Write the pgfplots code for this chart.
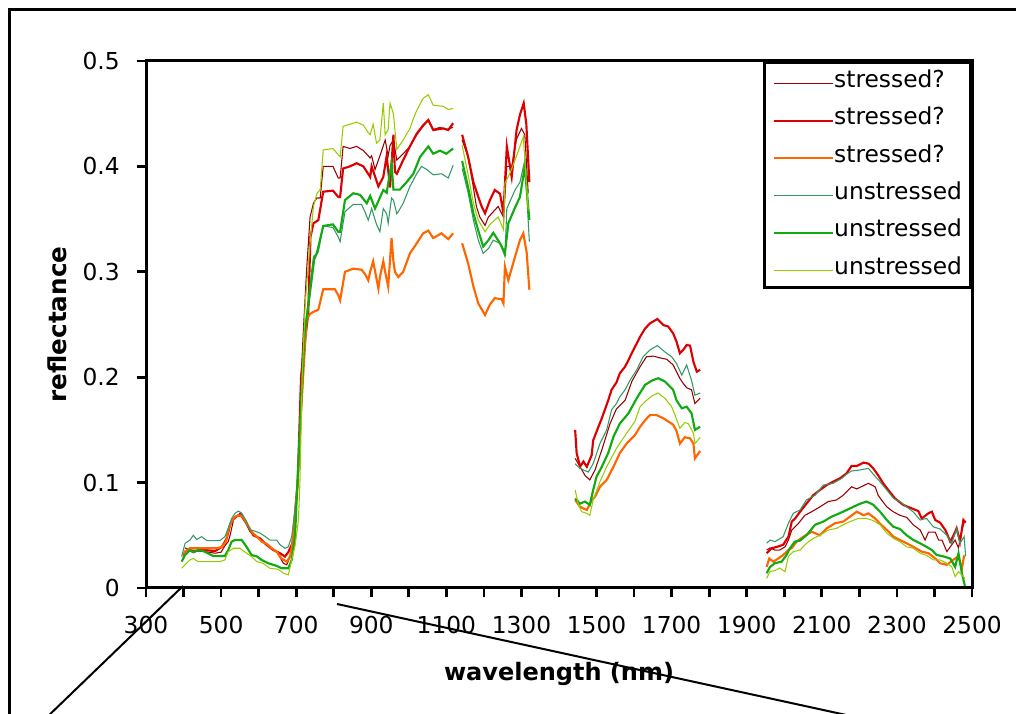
\documentclass[border=0pt]{standalone}
\usepackage{fontspec}
\setmainfont{DejaVu Sans}
\usepackage{pgfplots}
\pgfplotsset{compat=1.18}

\definecolor{sdark}{HTML}{990000}
\definecolor{sred}{HTML}{DD0000}
\definecolor{sorange}{HTML}{FF6600}
\definecolor{uteal}{HTML}{339966}
\definecolor{ugreen}{HTML}{11AA11}
\definecolor{ulight}{HTML}{99CC00}

\begin{document}
\begin{tikzpicture}[x=0.75pt,y=0.75pt]
\useasboundingbox (0,0) rectangle (1016,713);
\coordinate (A) at (146,125);
\begin{axis}[
    at={(A)}, anchor=south west,
    scale only axis, width=619.5pt, height=395.25pt,
    xmin=300, xmax=2500, ymin=0, ymax=0.5,
    unbounded coords=jump,
    xtick={300,500,700,900,1100,1300,1500,1700,1900,2100,2300,2500},
    xticklabels={300,500,700,900,1100,1300,1500,1700,1900,2100,2300,2500},
    minor x tick num=1,
    ytick={0,0.1,0.2,0.3,0.4,0.5},
    yticklabels={0,0.1,0.2,0.3,0.4,0.5},
    tick align=outside, tick pos=left,
    major tick length=7pt, minor tick length=7pt,
    every tick/.style={black, line width=2pt},
    axis line style={line width=2.25pt},
    tick label style={font=\fontsize{17.5}{20}\selectfont, inner sep=0pt},
    xticklabel style={yshift=-14pt},
    yticklabel style={xshift=-12.5pt},
    xlabel={\bfseries wavelength (nm)},
    ylabel={\bfseries reflectance},
    every axis x label/.style={at={(axis description cs:0.5,0)}, anchor=center, yshift=-64.5pt, font=\fontsize{18}{20}\selectfont},
    every axis y label/.style={at={(axis description cs:0,0.5)}, anchor=center, rotate=90, yshift=66.4pt, font=\fontsize{18.5}{20}\selectfont},
    legend style={at={(1,1)}, anchor=north east, draw=black, line width=2pt, fill=white,
        inner xsep=6.5pt, inner ysep=6pt, row sep=11pt,
        font=\fontsize{17.5}{20}\selectfont,
        nodes={inner sep=0pt, text height=13pt, text depth=4pt}},
    legend cell align=left,
    legend image code/.code={\draw[#1] (0pt,-1.5pt) -- (44pt,-1.5pt);},
    thinline/.style={line width=0.8pt},
    thickline/.style={line width=1.6pt},
]
% stressed? (dark red)
\addplot[sdark, thinline] coordinates {
(404,0.038) (417,0.036) (426,0.036) (439,0.035) (457,0.0345) (484,0.033) (500,0.034) (510,0.040) (519,0.044) (524,0.050)
(533,0.0645) (550,0.0708) (559,0.068) (568,0.060) (577,0.0534) (590,0.050) (612,0.044) (630,0.039) (648,0.0345) (666,0.0234)
(675,0.022) (684,0.030) (694,0.0455) (700,0.08) (706,0.11) (713,0.20) (720,0.25) (728,0.303) (737,0.352) (746,0.365)
(755,0.37) (764,0.37) (772,0.40) (798,0.40) (812,0.389) (817,0.389) (825,0.419) (843,0.417) (861,0.419) (879,0.415)
(897,0.408) (901,0.41) (910,0.397) (923,0.41) (937,0.425) (945,0.41) (950,0.42) (959,0.425) (968,0.406) (985,0.412)
(1003,0.419) (1021,0.43) (1038,0.438) (1052,0.444) (1065,0.435) (1083,0.437) (1100,0.435) (1118,0.437)
(1130,nan)
(1142,0.425) (1158,0.409) (1172,0.38) (1180,0.362) (1189,0.352) (1203,0.344) (1212,0.352) (1225,0.357) (1238,0.362) (1252,0.352)
(1261,0.40) (1274,0.40) (1287,0.426) (1300,0.436) (1309,0.43) (1318,0.3745)
(1400,nan)
(1443,0.123) (1456,0.115) (1469,0.107) (1482,0.1025) (1496,0.112) (1514,0.131) (1536,0.156) (1553,0.17) (1576,0.178) (1594,0.196)
(1616,0.21) (1633,0.2194) (1651,0.22) (1673,0.218) (1687,0.217) (1704,0.2116) (1713,0.2052) (1722,0.1988) (1731,0.194) (1740,0.19)
(1753,0.188) (1762,0.175) (1776,0.18)
(1900,nan)
(1953,0.036) (1962,0.038) (1975,0.036) (1988,0.036) (2002,0.039) (2011,0.0455) (2020,0.055) (2038,0.0614) (2055,0.069) (2073,0.0724)
(2095,0.077) (2117,0.082) (2139,0.0835) (2157,0.088) (2179,0.096) (2193,0.094) (2224,0.0993) (2242,0.096) (2250,0.088) (2259,0.0835)
(2273,0.077) (2290,0.0724) (2308,0.069) (2326,0.067) (2344,0.0598) (2362,0.055) (2375,0.0455) (2384,0.053) (2402,0.053) (2411,0.0455)
(2420,0.0455) (2433,0.0345) (2446,0.041) (2455,0.0455) (2464,0.038) (2473,0.055) (2481,0.0645)
};
\addlegendentry{stressed?}
% stressed? (red)
\addplot[sred, thickline] coordinates {
(400,0.030) (404,0.0345) (417,0.036) (426,0.034) (439,0.036) (457,0.036) (484,0.035) (502,0.039) (515,0.047) (524,0.060)
(533,0.066) (546,0.069) (555,0.068) (568,0.061) (586,0.050) (604,0.047) (621,0.041) (639,0.036) (657,0.033) (670,0.0298)
(679,0.034) (690,0.0424) (697,0.07) (704,0.10) (713,0.20) (722,0.23) (732,0.26) (738,0.333) (746,0.346) (759,0.349)
(772,0.376) (798,0.377) (812,0.371) (817,0.371) (825,0.398) (843,0.400) (861,0.403) (879,0.40) (897,0.39) (901,0.40)
(919,0.381) (932,0.39) (941,0.41) (950,0.38) (959,0.43) (963,0.395) (968,0.393) (985,0.406) (1003,0.419) (1021,0.431)
(1038,0.439) (1052,0.444) (1065,0.4345) (1092,0.436) (1105,0.4345) (1118,0.441)
(1130,nan)
(1142,0.43) (1158,0.409) (1172,0.385) (1185,0.371) (1194,0.362) (1203,0.3555) (1216,0.368) (1229,0.3776) (1243,0.374) (1252,0.3555)
(1261,0.419) (1274,0.39) (1287,0.4345) (1296,0.449) (1306,0.46) (1313,0.44) (1321,0.385)
(1400,nan)
(1443,0.150) (1447,0.128) (1456,0.115) (1465,0.12) (1474,0.115) (1487,0.126) (1491,0.140) (1505,0.153) (1514,0.161) (1531,0.178)
(1540,0.188) (1553,0.195) (1562,0.2037) (1576,0.210) (1585,0.2163) (1598,0.2258) (1607,0.232) (1616,0.2384) (1629,0.246) (1642,0.251)
(1662,0.2552) (1678,0.2495) (1691,0.248) (1704,0.2416) (1713,0.2337) (1722,0.2227) (1731,0.226) (1740,0.2305) (1749,0.23) (1758,0.2147)
(1767,0.2052) (1776,0.207)
(1900,nan)
(1953,0.0329) (1966,0.0377) (1980,0.039) (1997,0.041) (2011,0.0487) (2020,0.063) (2029,0.066) (2042,0.0724) (2059,0.080) (2077,0.088)
(2095,0.093) (2113,0.0977) (2130,0.1008) (2148,0.104) (2166,0.1088) (2179,0.1157) (2193,0.1157) (2211,0.119) (2224,0.118) (2237,0.1135)
(2250,0.107) (2264,0.099) (2277,0.093) (2295,0.085) (2317,0.0788) (2339,0.0756) (2357,0.073) (2366,0.066) (2384,0.0709) (2393,0.0724)
(2402,0.0645) (2415,0.062) (2429,0.055) (2442,0.044) (2451,0.05) (2459,0.0566) (2468,0.044) (2477,0.0645) (2483,0.062)
};
\addlegendentry{stressed?}
% stressed? (orange)
\addplot[sorange, thickline] coordinates {
(400,0.028) (404,0.0345) (417,0.0377) (439,0.0377) (462,0.0377) (488,0.0377) (502,0.039) (513,0.044) (519,0.055) (528,0.063)
(537,0.0677) (550,0.069) (559,0.067) (568,0.0614) (581,0.0534) (595,0.0487) (608,0.044) (621,0.042) (635,0.0377) (648,0.0345)
(661,0.028) (675,0.025) (684,0.03) (690,0.0424) (697,0.0724) (704,0.10) (712,0.16) (720,0.21) (728,0.255) (737,0.26)
(746,0.262) (759,0.264) (772,0.2834) (803,0.2834) (812,0.278) (817,0.273) (830,0.300) (852,0.303) (874,0.302) (883,0.298)
(892,0.292) (897,0.30) (905,0.31) (919,0.284) (923,0.295) (932,0.31) (937,0.30) (945,0.286) (954,0.332) (959,0.31)
(963,0.30) (972,0.295) (985,0.30) (1003,0.3175) (1021,0.327) (1038,0.3365) (1052,0.339) (1065,0.332) (1087,0.3365) (1105,0.331)
(1118,0.3365)
(1130,nan)
(1142,0.327) (1158,0.308) (1172,0.286) (1185,0.270) (1203,0.259) (1216,0.269) (1229,0.275) (1247,0.274) (1252,0.270) (1256,0.305)
(1265,0.292) (1283,0.3145) (1296,0.330) (1305,0.3365) (1314,0.318) (1321,0.283)
(1400,nan)
(1443,0.0835) (1456,0.077) (1474,0.074) (1487,0.083) (1496,0.0866) (1509,0.096) (1527,0.1025) (1545,0.115) (1562,0.128) (1580,0.137)
(1602,0.145) (1616,0.153) (1629,0.159) (1642,0.164) (1660,0.164) (1678,0.161) (1691,0.158) (1704,0.155) (1713,0.149) (1722,0.137)
(1735,0.143) (1749,0.142) (1758,0.137) (1762,0.123) (1776,0.130)
(1900,nan)
(1953,0.020) (1960,0.028) (1971,0.025) (1984,0.028) (1997,0.0313) (2011,0.036) (2020,0.038) (2033,0.044) (2051,0.0487) (2073,0.0534)
(2095,0.050) (2113,0.0566) (2135,0.0614) (2157,0.063) (2175,0.0677) (2193,0.0724) (2211,0.069) (2224,0.0708) (2242,0.066) (2255,0.061)
(2273,0.055) (2291,0.0487) (2308,0.0455) (2326,0.0424) (2344,0.039) (2366,0.0345) (2384,0.033) (2402,0.028) (2415,0.0235) (2433,0.022)
(2451,0.027) (2464,0.030) (2473,0.018) (2479,0.031)
};
\addlegendentry{stressed?}
% unstressed (teal)
\addplot[uteal, thinline] coordinates {
(395,0.0298) (404,0.0424) (417,0.0455) (426,0.050) (435,0.046) (448,0.0487) (462,0.045) (497,0.045) (510,0.0487) (519,0.0566)
(528,0.066) (537,0.0708) (546,0.073) (555,0.071) (568,0.063) (577,0.055) (590,0.054) (604,0.052) (617,0.049) (630,0.0455)
(648,0.0455) (657,0.041) (670,0.0377) (679,0.039) (688,0.0487) (697,0.074) (704,0.10) (712,0.17) (722,0.24) (737,0.289)
(746,0.3145) (759,0.319) (772,0.3435) (798,0.342) (812,0.333) (817,0.3286) (830,0.357) (852,0.364) (874,0.364) (883,0.357)
(892,0.349) (901,0.36) (914,0.345) (923,0.338) (932,0.36) (941,0.355) (945,0.346) (954,0.37) (959,0.368) (968,0.355)
(972,0.357) (985,0.365) (1003,0.381) (1021,0.393) (1034,0.40) (1048,0.397) (1065,0.392) (1087,0.393) (1105,0.389) (1118,0.401)
(1130,nan)
(1142,0.398) (1158,0.375) (1172,0.349) (1185,0.330) (1198,0.3175) (1212,0.322) (1225,0.33) (1243,0.327) (1256,0.3145) (1261,0.36)
(1283,0.3776) (1296,0.385) (1309,0.406) (1321,0.3286)
(1400,nan)
(1443,0.118) (1451,0.115) (1465,0.112) (1478,0.110) (1491,0.118) (1509,0.137) (1527,0.150) (1540,0.169) (1553,0.175) (1562,0.1815)
(1576,0.188) (1589,0.197) (1607,0.207) (1624,0.2194) (1642,0.2258) (1662,0.230) (1682,0.224) (1700,0.2194) (1713,0.213) (1727,0.202)
(1740,0.2116) (1753,0.197) (1762,0.183) (1776,0.185)
(1900,nan)
(1953,0.0424) (1962,0.0455) (1975,0.044) (1997,0.0487) (2011,0.0614) (2024,0.0709) (2042,0.074) (2059,0.0835) (2082,0.088) (2104,0.0977)
(2130,0.0993) (2153,0.104) (2166,0.108) (2179,0.111) (2202,0.112) (2224,0.1135) (2237,0.108) (2255,0.1008) (2273,0.093) (2291,0.085)
(2308,0.082) (2326,0.077) (2344,0.072) (2362,0.0645) (2379,0.066) (2397,0.058) (2415,0.056) (2433,0.050) (2446,0.0424) (2459,0.056)
(2468,0.0424) (2479,0.0487) (2483,0.030)
};
\addlegendentry{unstressed}
% unstressed (green)
\addplot[ugreen, thickline] coordinates {
(395,0.025) (404,0.0313) (417,0.036) (426,0.034) (439,0.036) (453,0.035) (479,0.0304) (510,0.0304) (519,0.036) (528,0.044)
(537,0.0455) (555,0.0455) (568,0.039) (581,0.0313) (595,0.030) (608,0.0266) (626,0.0234) (648,0.021) (661,0.0187) (679,0.0187)
(688,0.0266) (697,0.0487) (702,0.09) (714,0.18) (722,0.24) (741,0.292) (748,0.312) (755,0.3175) (772,0.3435) (798,0.345)
(812,0.338) (817,0.338) (830,0.368) (852,0.3745) (870,0.373) (888,0.365) (897,0.372) (910,0.36) (932,0.3776) (941,0.375)
(954,0.403) (959,0.378) (976,0.378) (994,0.385) (1012,0.393) (1030,0.409) (1052,0.419) (1065,0.412) (1083,0.415) (1100,0.412)
(1118,0.417)
(1130,nan)
(1142,0.405) (1158,0.38) (1172,0.3555) (1185,0.339) (1198,0.324) (1212,0.33) (1225,0.337) (1243,0.327) (1256,0.3175) (1265,0.346)
(1283,0.361) (1296,0.371) (1309,0.40) (1321,0.349)
(1400,nan)
(1443,0.085) (1456,0.080) (1469,0.082) (1482,0.0788) (1491,0.093) (1500,0.1056) (1514,0.115) (1531,0.128) (1545,0.1435) (1562,0.156)
(1585,0.1657) (1607,0.180) (1629,0.1926) (1647,0.1967) (1664,0.199) (1682,0.196) (1704,0.188) (1713,0.178) (1727,0.1705) (1740,0.172)
(1753,0.1657) (1762,0.150) (1776,0.153)
(1900,nan)
(1953,0.014) (1962,0.020) (1975,0.0235) (1993,0.025) (2006,0.0313) (2015,0.0377) (2028,0.044) (2042,0.045) (2059,0.050) (2082,0.060)
(2104,0.063) (2126,0.0677) (2148,0.071) (2166,0.074) (2184,0.077) (2202,0.080) (2219,0.082) (2237,0.079) (2255,0.0724) (2273,0.0645)
(2291,0.058) (2308,0.056) (2326,0.050) (2344,0.0455) (2362,0.0424) (2379,0.039) (2393,0.036) (2406,0.0313) (2424,0.030) (2442,0.028)
(2455,0.020) (2464,0.0329) (2473,0.014) (2481,0.002)
};
\addlegendentry{unstressed}
% unstressed (light green)
\addplot[ulight, thinline] coordinates {
(395,0.0187) (404,0.022) (417,0.0266) (426,0.028) (439,0.025) (462,0.025) (497,0.025) (510,0.0266) (519,0.0345) (533,0.0377)
(550,0.0377) (568,0.033) (581,0.0298) (595,0.025) (612,0.0234) (630,0.0187) (652,0.0178) (666,0.014) (679,0.0124) (688,0.0266)
(697,0.04) (706,0.0645) (710,0.10) (716,0.20) (724,0.27) (737,0.327) (746,0.362) (755,0.374) (764,0.378) (772,0.4156)
(798,0.417) (812,0.411) (817,0.409) (825,0.438) (843,0.44) (861,0.442) (879,0.439) (892,0.432) (897,0.43) (905,0.44)
(914,0.422) (923,0.425) (932,0.46) (937,0.43) (945,0.435) (950,0.46) (959,0.45) (968,0.416) (985,0.425) (1003,0.436)
(1012,0.445) (1021,0.453) (1038,0.4646) (1052,0.468) (1065,0.458) (1092,0.457) (1105,0.454) (1118,0.455)
(1130,nan)
(1142,0.42) (1158,0.392) (1172,0.365) (1185,0.349) (1203,0.338) (1216,0.345) (1238,0.352) (1252,0.34) (1256,0.384) (1270,0.394)
(1287,0.41) (1305,0.428) (1318,0.3586)
(1400,nan)
(1443,0.093) (1451,0.080) (1460,0.0724) (1474,0.0708) (1482,0.069) (1491,0.0835) (1509,0.1008) (1527,0.115) (1553,0.1325) (1580,0.1468)
(1602,0.158) (1616,0.172) (1633,0.178) (1651,0.183) (1664,0.185) (1682,0.180) (1700,0.172) (1709,0.164) (1722,0.1515) (1735,0.157)
(1744,0.156) (1758,0.147) (1762,0.137) (1776,0.143)
(1900,nan)
(1953,0.0092) (1962,0.0155) (1975,0.0165) (1988,0.019) (2002,0.0155) (2011,0.030) (2024,0.0345) (2042,0.036) (2059,0.0424) (2077,0.047)
(2095,0.050) (2117,0.055) (2139,0.0566) (2157,0.060) (2175,0.063) (2197,0.066) (2219,0.066) (2237,0.064) (2255,0.060) (2273,0.052)
(2291,0.047) (2308,0.044) (2326,0.039) (2344,0.0377) (2362,0.0329) (2379,0.031) (2397,0.0266) (2415,0.0266) (2433,0.0235) (2446,0.020)
(2455,0.0108) (2464,0.0155) (2473,0.0124) (2481,0.009)
};
\addlegendentry{unstressed}
\end{axis}
% box of the whole figure (runs off the page)
\draw[line width=2.25pt] (9,-10) -- (9,703) -- (1030,703);
% call-out lines
\draw[line width=1.5pt] (183,127) -- (44,-7);
\draw[line width=1.5pt] (337,109) -- (860,-5);
\end{tikzpicture}
\end{document}
